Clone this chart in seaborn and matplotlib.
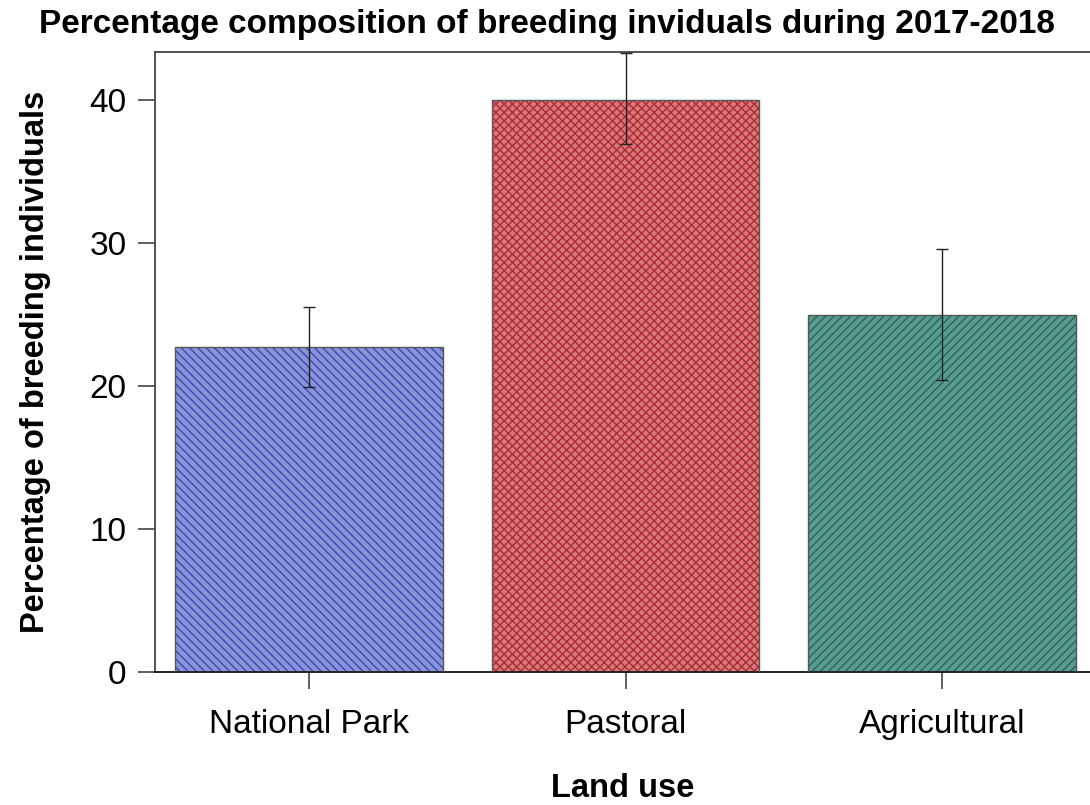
import numpy as np
import pandas as pd
import seaborn as sns
import matplotlib.pyplot as plt

# 数据
land_use = ['National Park', 'Pastoral', 'Agricultural']
pct_breeding = [22.7, 40.0, 25.0]
err_low = [19.9, 36.9, 20.4]
err_high = [25.5, 43.3, 29.6]

fill_colors = ['#7b8ce0', '#e46a6a', '#50a597']
hatch_colors = ['#3a48c0', '#b02a36', '#23675d']
hatches = ['\\\\\\\\', 'xxxx', '////']

sns.set_style('white')
plt.rcParams['font.family'] = ['Liberation Sans', 'DejaVu Sans']
plt.rcParams['hatch.linewidth'] = 1.0
plt.rcParams['text.color'] = 'black'
plt.rcParams['axes.labelcolor'] = 'black'
plt.rcParams['xtick.color'] = 'black'
plt.rcParams['ytick.color'] = 'black'

df = pd.DataFrame({'land_use': land_use, 'pct': pct_breeding})

fig = plt.figure(figsize=(10.9, 8.05), dpi=100)
ax = fig.add_axes([0.1422, 0.1652, 0.8578, 0.7702])

sns.barplot(data=df, x='land_use', y='pct', hue='land_use', palette=fill_colors,
            order=land_use, hue_order=land_use, width=0.846, legend=False, ax=ax)

for bar, hc, h in zip(ax.patches, hatch_colors, hatches):
    bar.set_hatch(h)
    bar.set_edgecolor(hc)
    bar.set_linewidth(0)
    # 外框单独画
    ax.add_patch(plt.Rectangle(bar.get_xy(), bar.get_width(), bar.get_height(),
                               fill=False, edgecolor='#555555', linewidth=1.0, zorder=3))

xpos = np.arange(len(land_use))
means = np.array(pct_breeding)
yerr = np.vstack([means - np.array(err_low), np.array(err_high) - means])
ax.errorbar(xpos, means, yerr=yerr, fmt='none', ecolor='#222222', elinewidth=1.0,
            capsize=4.5, capthick=1.0, zorder=4)

ax.set_xlim(-0.486, 2.467)
ax.set_ylim(0, 43.36)
ax.set_yticks([0, 10, 20, 30, 40])

for side in ['left', 'bottom', 'top']:
    ax.spines[side].set_visible(True)
    ax.spines[side].set_color('#444444')
    ax.spines[side].set_linewidth(1.3)
ax.spines['bottom'].set_color('#111111')
ax.spines['right'].set_visible(False)

ax.tick_params(axis='both', which='major', labelsize=24, length=12.5, width=1.2,
               color='#444444', labelcolor='black', left=True, bottom=True, pad=8)
ax.tick_params(axis='x', pad=14)

ax.set_xlabel('Land use', fontsize=23.5, fontweight='bold', labelpad=24)
ax.set_ylabel('Percentage of breeding individuals', fontsize=23.5, fontweight='bold', labelpad=28)

fig.text(0.502, 0.970, 'Percentage composition of breeding inviduals during 2017-2018',
         ha='center', va='center', fontsize=24, fontweight='bold')

fig.savefig('out.png', dpi=100)
